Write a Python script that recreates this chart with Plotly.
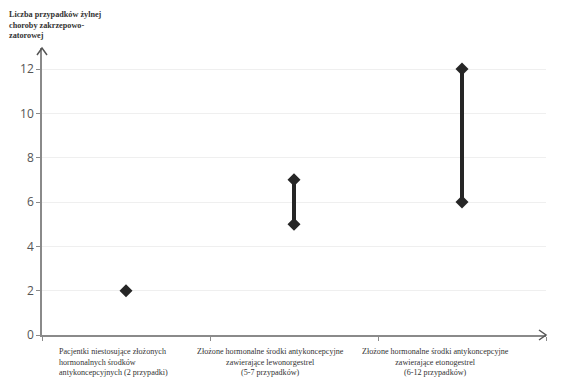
import plotly.graph_objects as go

categories = [
    "Pacjentki niestosujące złożonych<br>hormonalnych środków<br>antykoncepcyjnych (2 przypadki)",
    "Złożone hormonalne środki antykoncepcyjne<br>zawierające lewonorgestrel<br>(5-7 przypadków)",
    "Złożone hormonalne środki antykoncepcyjne<br>zawierające etonogestrel<br>(6-12 przypadków)",
]
low = [2, 5, 6]
high = [2, 7, 12]
y_ticks = [0, 2, 4, 6, 8, 10, 12]
title_text = "Liczba przypadków żylnej<br>choroby zakrzepowo-<br>zatorowej"

dark = "#262626"
axis_col = "#8a8a8a"
serif = "Liberation Serif"

fig = go.Figure()
for i, (lo, hi) in enumerate(zip(low, high)):
    xs = [i + 1] if lo == hi else [i + 1, i + 1]
    ys = [lo] if lo == hi else [lo, hi]
    fig.add_trace(go.Scatter(
        x=xs, y=ys, mode="lines+markers",
        line=dict(color=dark, width=4),
        marker=dict(symbol="diamond", size=10, color=dark),
        showlegend=False, hoverinfo="skip",
    ))

fig.update_xaxes(
    range=[0.5, 3.5], showgrid=False, zeroline=False,
    showline=True, linecolor=axis_col, linewidth=1.5,
    tickvals=[0.5, 1.5, 2.5, 3.5], ticktext=["", "", "", ""],
    ticks="outside", ticklen=4, tickcolor=axis_col,
)
fig.update_yaxes(
    range=[0, 12.95], tickvals=y_ticks, ticktext=[str(v) for v in y_ticks],
    showgrid=True, gridcolor="#efefef", gridwidth=1, zeroline=False,
    showline=True, linecolor=axis_col, linewidth=1.5,
    ticks="outside", ticklen=4, tickcolor=axis_col,
    tickfont=dict(family="Open Sans, Liberation Sans, sans-serif", size=12, color="#555555"),
)

# axis arrows (paper-referenced so they are not clipped)
fig.add_shape(type="path", xref="paper", yref="paper", xsizemode="pixel", ysizemode="pixel",
              xanchor=1.0, yanchor=0, path="M -7 5 L 0 0 L -7 -5",
              line=dict(color="#555555", width=1.5))
fig.add_shape(type="path", xref="paper", yref="paper", xsizemode="pixel", ysizemode="pixel",
              xanchor=0, yanchor=1.0, path="M -5 -7 L 0 0 L 5 -7",
              line=dict(color="#555555", width=1.5))

lab_font = dict(family=serif, size=8.1, color="#333333")
aligns = ["left", "center", "center"]
xpos = [0.59, 1.86, 2.84]
anchors = ["left", "center", "center"]
for i, cat in enumerate(categories):
    fig.add_annotation(
        x=xpos[i], y=-0.035, xref="x", yref="paper", text=cat, showarrow=False,
        xanchor=anchors[i], yanchor="top", align=aligns[i], font=lab_font,
    )

fig.add_annotation(
    x=0, y=1, xref="paper", yref="paper", text="<b>" + title_text + "</b>",
    showarrow=False, xanchor="left", yanchor="top", align="left",
    xshift=-35, yshift=40,
    font=dict(family=serif, size=8.2, color="#333333"),
)

fig.update_layout(
    width=561, height=390,
    margin=dict(l=42, r=15, t=48, b=55),
    plot_bgcolor="white", paper_bgcolor="white",
)

fig.write_html("out.html")
